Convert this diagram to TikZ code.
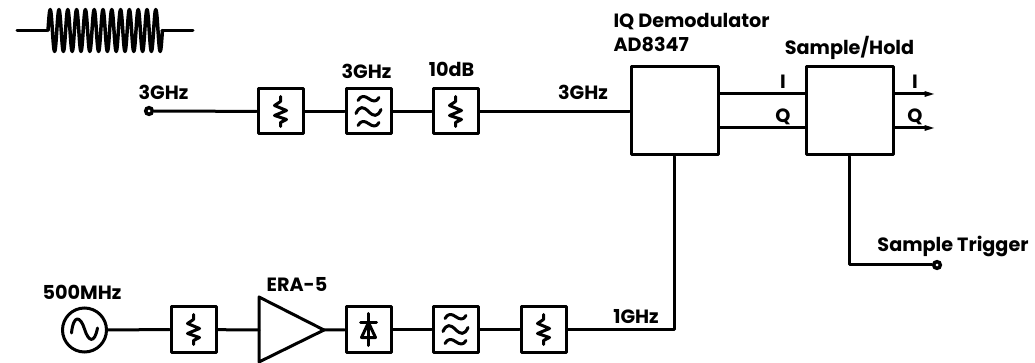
\documentclass[tikz,border=0pt]{standalone}
\usepackage{fontspec}
\setmainfont{Poppins}
\usetikzlibrary{arrows.meta,shapes.geometric}

\tikzset{every picture/.style={line width=2.25pt}}
\tikzset{
  wire/.style={line cap=round,line join=round},
  symb/.style={line width=2.25pt,line cap=round,line join=round},
  blockbox/.style={draw,rectangle,line join=round,minimum width=33.75pt,minimum height=33.75pt,inner sep=0pt},
  bigbox/.style={draw,rectangle,line join=round,minimum width=65.25pt,minimum height=66pt,inner sep=0pt},
  portdot/.style={draw,circle,line width=2.6pt,minimum size=5pt,inner sep=0pt},
  srccircle/.style={draw,circle,minimum size=33pt,inner sep=0pt},
  lbl/.style={inner sep=0pt,font=\fontsize{14.4}{16}\selectfont\bfseries},
  outtip/.style={-{Triangle[length=10pt,width=3.4pt]}},
  % symbols are drawn around the centre of a block, y pointing up in a pic
  pics/attensym/.style={code={
    \draw [symb] (0,15) -- (0,10) -- (-6,6) -- (6,1) -- (-6,-4) -- (6,-8) -- (0,-11) -- (0,-15);
  }},
  pics/filtersym/.style={code={
    \draw [symb] (-10.5,11) .. controls (-8,16) and (-4,16) .. (0,13) .. controls (4,10) and (8,9) .. (10.5,14);
    \draw [symb] (-12.5,-2) .. controls (-9,6) and (-5,5) .. (0,0) .. controls (5,-5) and (9,-6) .. (12.5,2);
    \draw [symb] (-10.5,-14) .. controls (-8,-9) and (-4,-9) .. (0,-12) .. controls (4,-15) and (8,-16) .. (10.5,-11);
  }},
  pics/diodesym/.style={code={
    \draw [symb] (0,16) -- (0,-16);
    \draw [symb] (-8,7) -- (8,7);
    \draw [symb] (0,7) -- (-7,-8) -- (7,-8) -- cycle;
  }},
  pics/sinesym/.style={code={
    \draw [symb] (-13,-3) .. controls (-11,16) and (-4,14) .. (0,1) .. controls (4,-12) and (10,-14) .. (13,2);
  }},
}

\begin{document}
\begin{tikzpicture}[x=0.75pt,y=0.75pt,yscale=-1,xscale=1]
\useasboundingbox (0,0) rectangle (1035,363);

%Shape: Coil
\coordinate (coilin) at (17,31);
\coordinate (coilout) at (193,31);
\draw [wire] (coilin) -- (47,31) ;
\draw [wire,line width=2.6pt,smooth,samples=209,domain=0:13] plot ({48+\x*8.8},{30.5-21*sin(\x*360)}) ;
\draw [wire] (162,31) -- (coilout) ;

%Shape: Top row blocks
\draw (149,111) node (rfport) [portdot] {};
\draw (280.5,111.5) node (rfatten) [blockbox] {};
\draw (368.5,111.5) node (rffilter) [blockbox] {};
\draw (455.5,111.5) node (rfpad) [blockbox] {};
\draw (674.5,111) node (demod) [bigbox] {};
\draw (849.5,111) node (samplehold) [bigbox] {};

%Shape: Bottom row blocks
\draw (84.5,330) node (losource) [srccircle] {};
\draw (193.5,329.5) node (loatten) [blockbox] {};
\draw (368.5,329.5) node (lodiode) [blockbox] {};
\draw (455.5,329.5) node (lofilter) [blockbox] {};
\draw (543.5,329.5) node (lopad) [blockbox] {};
\draw (937,265) node (trigport) [portdot] {};

%Shape: Amplifier
\coordinate (ampin) at (259,330);
\coordinate (ampout) at (324,330);
\draw [line join=round] (259,297) -- (ampout) -- (259,362) -- cycle ;

%Shape: Symbols in blocks
\pic at (rfatten) {attensym};
\pic at (rffilter) {filtersym};
\pic at (rfpad) {attensym};
\pic at (losource) {sinesym};
\pic at (loatten) {attensym};
\pic at (lodiode) {diodesym};
\pic at (lofilter) {filtersym};
\pic at (lopad) {attensym};

%Straight Lines
\draw [wire] (rfport) -- (rfatten) ;
\draw [wire] (rfatten) -- (rffilter) ;
\draw [wire] (rffilter) -- (rfpad) ;
\draw [wire] (rfpad) -- (rfpad -| demod.west) ;
\draw [wire] ([yshift=12.75pt]demod.east) -- ([yshift=12.75pt]samplehold.west) ;
\draw [wire] ([yshift=-12.75pt]demod.east) -- ([yshift=-12.75pt]samplehold.west) ;
\draw [wire] (losource) -- (loatten) ;
\draw [wire] (loatten) -- (ampin) ;
\draw [wire] (ampout) -- (lodiode) ;
\draw [wire] (lodiode) -- (lofilter) ;
\draw [wire] (lofilter) -- (lopad) ;
\draw [wire] (lopad) -| (demod.south) ;
\draw [wire] (samplehold.south) |- (trigport) ;

%Straight Lines with tips
\coordinate (outi) at (938,94);
\coordinate (outq) at (938,128);
\draw [outtip] (outi -| samplehold.east) -- (outi) ;
\draw [outtip] (outq -| samplehold.east) -- (outq) ;

% Text Node
\draw (163.5,92.5) node (lblrf) [lbl] {3GHz};
% Text Node
\draw (366.5,71.5) node (lblfilter) [lbl] {3GHz};
% Text Node
\draw (451.5,69.5) node (lblpad) [lbl] {10dB};
% Text Node
\draw (583,92.5) node (lbldemodin) [lbl] {3GHz};
% Text Node
\draw (612,22) node (lbldemod) [lbl,anchor=west] {IQ Demodulator};
% Text Node
\draw (612,44) node (lblpart) [lbl,anchor=west] {AD8347};
% Text Node
\draw (849.5,48) node (lblsh) [lbl] {Sample/Hold};
% Text Node
\draw (783,82) node (lblinI) [lbl] {I};
% Text Node
\draw (783,117) node (lblinQ) [lbl] {Q};
% Text Node
\draw (915,82) node (lbloutI) [lbl] {I};
% Text Node
\draw (915,117) node (lbloutQ) [lbl] {Q};
% Text Node
\draw (953,246) node (lbltrig) [lbl] {Sample Trigger};
% Text Node
\draw (82,292.5) node (lblsource) [lbl] {500MHz};
% Text Node
\draw (297,284.5) node (lblamp) [lbl] {ERA-5};
% Text Node
\draw (636,317) node (lblif) [lbl] {1GHz};

\end{tikzpicture}
\end{document}
